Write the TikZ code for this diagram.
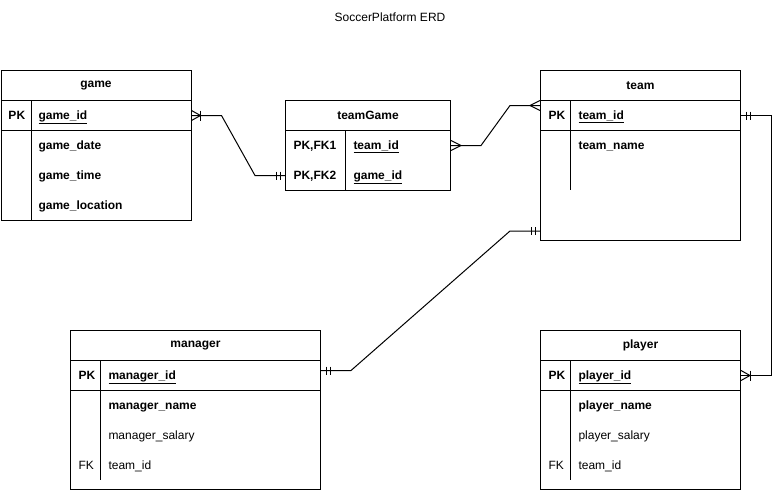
\documentclass[tikz,border=0pt]{standalone}
\usepackage{fontspec}
\setmainfont{Liberation Sans}
\usetikzlibrary{calc}
\newcommand{\erfont}{\fontsize{12pt}{14pt}\selectfont}
\tikzset{
  box/.style={draw, inner sep=0pt, anchor=north west, font=\erfont\bfseries},
  row/.style={inner sep=0pt, anchor=north west},
  key/.style={anchor=west, inner sep=0pt, text height=10pt, text depth=2pt, font=\erfont\bfseries},
  fld/.style={anchor=west, inner sep=0pt, text height=10pt, text depth=2pt, font=\erfont},
  ermany/.pic={\draw (0,-5) -- (10,0) -- (0,5);},
  eronemany/.pic={\draw (0,-5) -- (9,0) -- (0,5); \draw (9,-5) -- (9,5);},
  erone/.pic={\draw (5,-4) -- (5,4); \draw (9,-4) -- (9,4);}
}
\begin{document}
\begin{tikzpicture}[x=1pt, y=-1pt, line width=1pt, font=\erfont]
  \useasboundingbox (0,0) rectangle (780,490);
  \node (title) at (390,17) {SoccerPlatform ERD};
  % game
  \node[box, minimum width=190pt, minimum height=150pt] (game) at (0.5,70) {};
  \node[box, minimum width=190pt, minimum height=30pt] (gameHead) at (0.5,70) {game};
  \node[box, minimum width=190pt, minimum height=30pt] (gamePK) at (0.5,100) {};
  \draw (31,100) -- (31,220);
  \node[key] at (8,115) {PK};
  \node[key] at (38,115) {\underline{game\_id}};
  \node[key] at (38,145) {game\_date};
  \node[key] at (38,175) {game\_time};
  \node[key] at (38,205) {game\_location};
  % teamGame
  \node[box, minimum width=165pt, minimum height=90pt] (teamGame) at (285,100) {};
  \node[box, minimum width=165pt, minimum height=30pt] (tgHead) at (285,100) {teamGame};
  \node[row, minimum width=165pt, minimum height=30pt] (tgTeam) at (285,130) {};
  \node[row, minimum width=165pt, minimum height=30pt] (tgGame) at (285,160) {};
  \draw (345,130) -- (345,190);
  \node[key] at (293,145) {PK,FK1};
  \node[key] at (353,145) {\underline{team\_id}};
  \node[key] at (293,175) {PK,FK2};
  \node[key] at (353,175) {\underline{game\_id}};
  % team
  \node[box, minimum width=200pt, minimum height=170pt] (team) at (540,70) {};
  \node[box, minimum width=200pt, minimum height=30pt] (teamHead) at (540,70) {team};
  \node[box, minimum width=200pt, minimum height=30pt] (teamPK) at (540,100) {};
  \draw (570,100) -- (570,190);
  \node[key] at (548,115) {PK};
  \node[key] at (578,115) {\underline{team\_id}};
  \node[key] at (578,145) {team\_name};
  % manager
  \node[box, minimum width=250pt, minimum height=159pt] (manager) at (70,330) {};
  \node[box, minimum width=250pt, minimum height=30pt] (managerHead) at (70,330) {manager};
  \node[box, minimum width=250pt, minimum height=30pt] (managerPK) at (70,360) {};
  \draw (100,360) -- (100,480);
  \node[key] at (78,375) {PK};
  \node[key] at (108,375) {\underline{manager\_id}};
  \node[key] at (108,405) {manager\_name};
  \node[fld] at (108,435) {manager\_salary};
  \node[fld] at (78,465) {FK};
  \node[fld] at (108,465) {team\_id};
  % player
  \node[box, minimum width=200pt, minimum height=159pt] (player) at (540,330) {};
  \node[box, minimum width=200pt, minimum height=30pt] (playerHead) at (540,330) {player};
  \node[box, minimum width=200pt, minimum height=30pt] (playerPK) at (540,360) {};
  \draw (570,360) -- (570,480);
  \node[key] at (548,375) {PK};
  \node[key] at (578,375) {\underline{player\_id}};
  \node[key] at (578,405) {player\_name};
  \node[fld] at (578,435) {player\_salary};
  \node[fld] at (548,465) {FK};
  \node[fld] at (578,465) {team\_id};
  % relations
  \coordinate (teamIn) at ($(teamPK.west)+(0,-10)$);
  \coordinate (teamLow) at ($(team.south west)+(0,-10)$);
  \coordinate (managerOut) at ($(managerPK.east)+(0,-5)$);
  \draw (gamePK.east) -- ++(30,0) -- ($(tgGame.west)+(-30,0)$) -- (tgGame.west);
  \pic at (gamePK.east) {eronemany};
  \pic[xscale=-1] at (tgGame.west) {erone};
  \draw (tgTeam.east) -- ++(30,0) -- ($(teamIn)+(-30,0)$) -- (teamIn);
  \pic at (tgTeam.east) {ermany};
  \pic[xscale=-1] at (teamIn) {ermany};
  \draw (teamPK.east) -- ++(30,0) |- (playerPK.east);
  \pic at (teamPK.east) {erone};
  \pic at (playerPK.east) {eronemany};
  \draw (managerOut) -- ++(30,0) -- ($(teamLow)+(-30,0)$) -- (teamLow);
  \pic at (managerOut) {erone};
  \pic[xscale=-1] at (teamLow) {erone};
\end{tikzpicture}
\end{document}
